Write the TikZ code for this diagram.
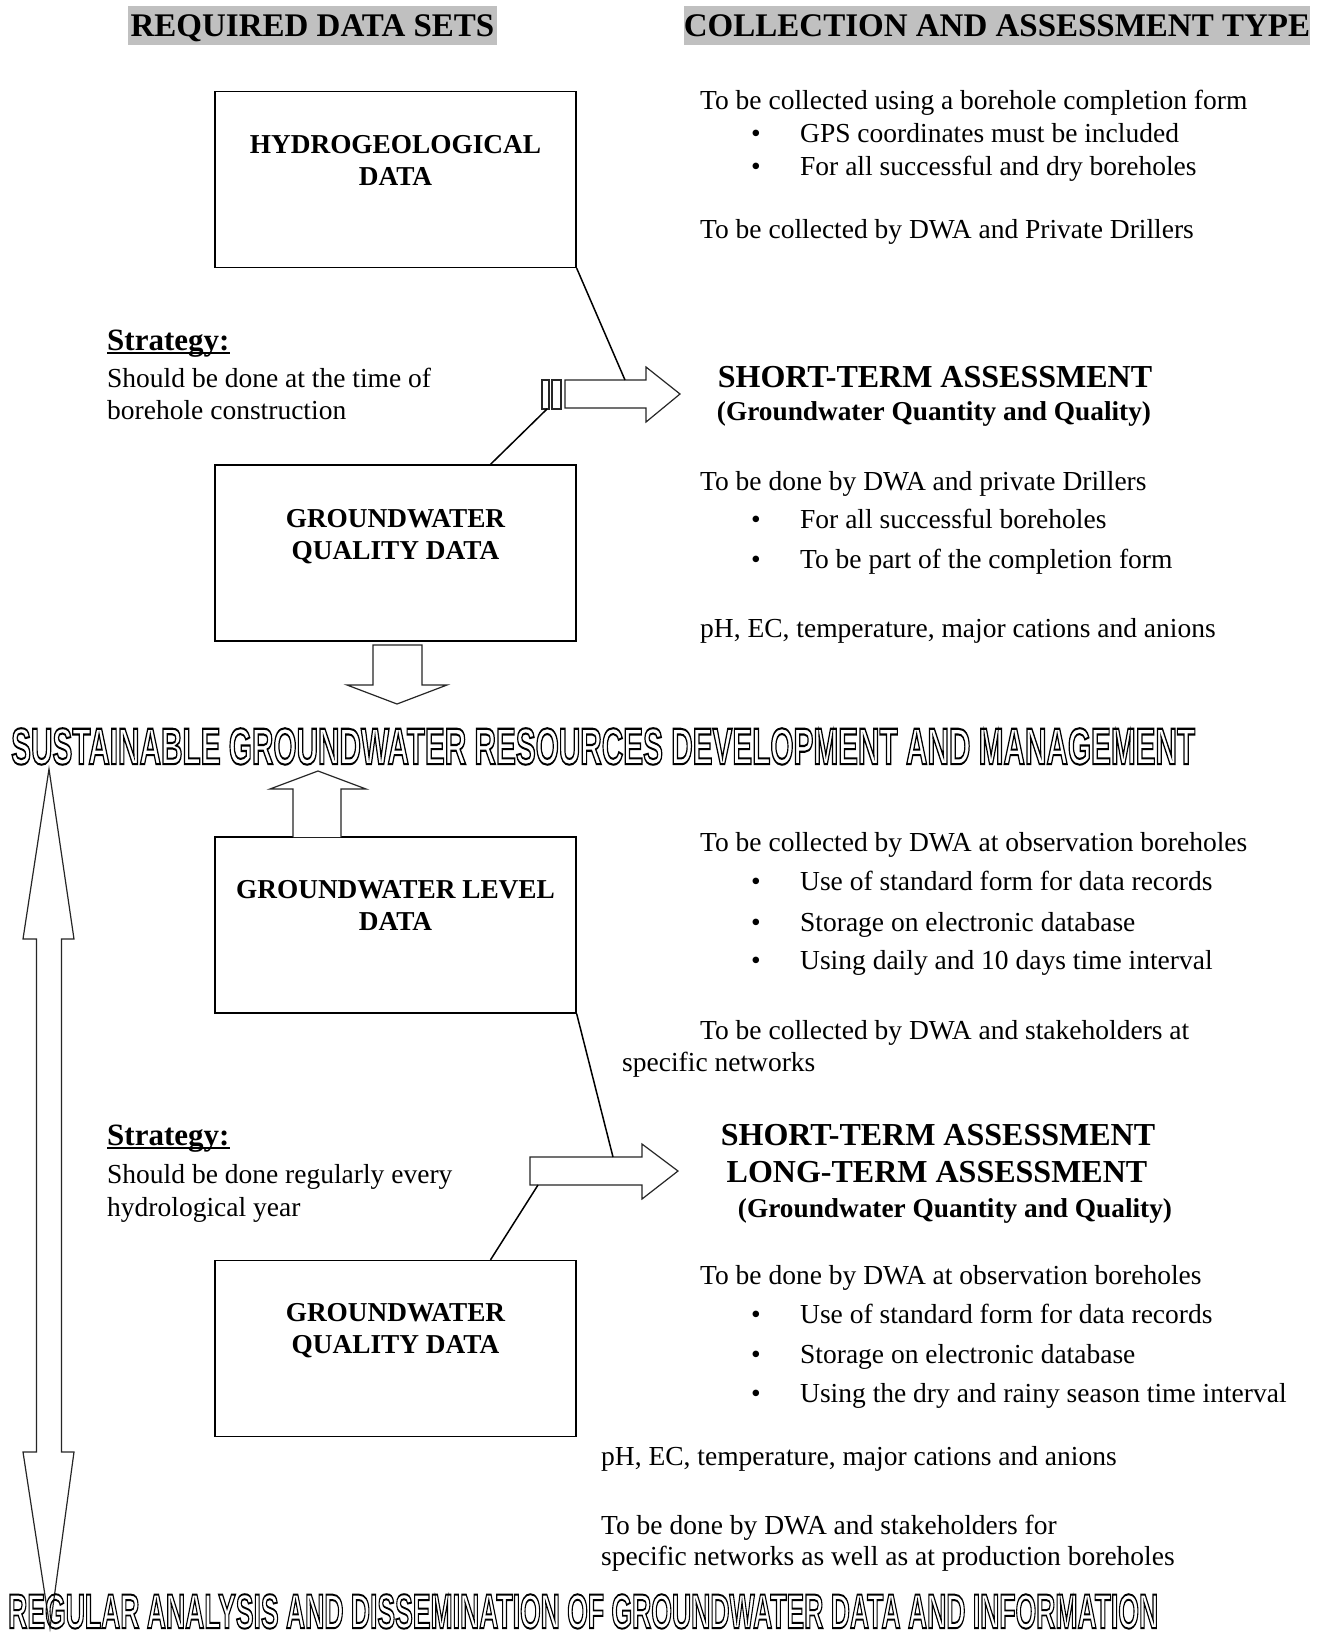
\documentclass[tikz,border=0pt]{standalone}
\usepackage{fontspec}
\setmainfont{Liberation Serif}
\newfontfamily\outfont{Liberation Sans}
\usepackage{graphicx}
\definecolor{hdrgray}{RGB}{192,192,192}
\newcommand{\OutlineTxt}[1]{\special{pdf:literal direct 1 Tr 2.0 w}#1\special{pdf:literal direct 0 Tr 1 w}}
\newcommand{\Bul}{\makebox[49pt][l]{\textbullet}}
\begin{document}
\begin{tikzpicture}[x=1pt,y=-1pt,
  body/.style={font=\fontsize{27.5}{33}\selectfont, anchor=mid west, inner sep=0pt},
  strat/.style={font=\bfseries\fontsize{31}{36}\selectfont, anchor=base west, inner sep=0pt},
  boxtxt/.style={font=\bfseries\fontsize{27.3}{32}\selectfont, align=center, inner sep=0pt},
  hdr/.style={fill=hdrgray, font=\bfseries\fontsize{33}{36}\selectfont, inner sep=0pt, minimum height=39pt, text height=22pt, text depth=0pt},
  databox/.style={draw, line width=1.3pt, minimum width=361pt, minimum height=176pt, inner sep=0pt},
  blockarrow/.style={draw=black!85, line width=1.2pt, fill=white, line join=miter},
  conn/.style={line width=1.5pt},
  bigtitle/.style={font=\bfseries\fontsize{32}{37}\selectfont, inner sep=0pt},
  subtitle/.style={font=\bfseries\fontsize{27.3}{32}\selectfont, inner sep=0pt},
  outl/.style={anchor=north west, inner sep=0pt, font=\outfont\bfseries\fontsize{50}{50}\selectfont}
]
\useasboundingbox (0,0) rectangle (1320,1639);
\fill[white] (0,0) rectangle (1320,1639);

% headers
\node[hdr, minimum width=369pt] (h1) at (312.5,25.5) {REQUIRED DATA SETS};
\node[hdr, minimum width=626pt] (h2) at (997,25.5) {COLLECTION AND ASSESSMENT TYPE};

% data boxes
\node[databox] (b1) at (395.5,179.5) {};
\node[boxtxt] (b1t) at (395.5,160) {HYDROGEOLOGICAL\\DATA};
\node[databox] (b2) at (395.5,553) {};
\node[boxtxt] (b2t) at (395.5,537) {GROUNDWATER\\QUALITY DATA};
\node[databox] (b3) at (395.5,925) {};
\node[boxtxt] (b3t) at (395.5,905) {GROUNDWATER LEVEL\\DATA};
\node[databox] (b4) at (395.5,1348.5) {};
\node[boxtxt] (b4t) at (395.5,1331) {GROUNDWATER\\QUALITY DATA};

% block arrow 1 (upper, to the right)
\draw[blockarrow] (565,380) -- (646,380) -- (646,367) -- (680,394) -- (646,422) -- (646,408) -- (565,408) -- cycle;
\draw[blockarrow] (542,380) rectangle (549,409);
\draw[blockarrow] (552,380) rectangle (561,409);
\coordinate (a1top) at (625,380);
\coordinate (a1bot) at (547,409);
\draw[conn] (b1.south east) -- (a1top);
\draw[conn] (b2.north) ++(95,0) coordinate (b2c) (b2c) -- (a1bot);

% block arrow 2 (lower, to the right)
\draw[blockarrow] (530,1157) -- (642,1157) -- (642,1144) -- (678,1171) -- (642,1199) -- (642,1185) -- (530,1185) -- cycle;
\coordinate (a2top) at (613,1157);
\coordinate (a2bot) at (538,1185);
\draw[conn] (b3.south east) -- (a2top);
\draw[conn] (b4.north) ++(95,0) coordinate (b4c) (b4c) -- (a2bot);

% down arrow from box 2
\draw[blockarrow] (373,645) -- (422,645) -- (422,685) -- (447,685) -- (397,704) -- (347,685) -- (373,685) -- cycle;
% up arrow to box 3
\draw[blockarrow] (293,837) -- (293,789) -- (270,789) -- (318,771) -- (366,789) -- (341,789) -- (341,837);

% left double arrow
\draw[blockarrow] (49,769) -- (74,939) -- (61.5,939) -- (61.5,1452) -- (74,1452) -- (50,1628) -- (23,1452) -- (36.5,1452) -- (36.5,939) -- (23,939) -- cycle;

% strategy texts
\node[strat] (s1) at (107,350) {Strategy:};
\draw[line width=2pt] ([yshift=-2.5pt]s1.base west) -- ([yshift=-2.5pt]s1.base east);
\node[body] (s1a) at (107,385) {Should be done at the time of};
\node[body] (s1b) at (107,417) {borehole construction};

\node[strat] (s2) at (107,1145) {Strategy:};
\draw[line width=2pt] ([yshift=-2.5pt]s2.base west) -- ([yshift=-2.5pt]s2.base east);
\node[body] (s2a) at (107,1181) {Should be done regularly every};
\node[body] (s2b) at (107,1214) {hydrological year};

% right column, upper
\node[body] (r1) at (700,107) {To be collected using a borehole completion form};
\node[body] (r1a) at (751,140) {\Bul GPS coordinates must be included};
\node[body] (r1b) at (751,173) {\Bul For all successful and dry boreholes};
\node[body] (r2) at (700,236) {To be collected by DWA and Private Drillers};

\node[bigtitle] (t1) at (935,377) {SHORT-TERM ASSESSMENT};
\node[subtitle] (t1s) at (934,414) {(Groundwater Quantity and Quality)};

\node[body] (r3) at (700,488) {To be done by DWA and private Drillers};
\node[body] (r3a) at (751,526) {\Bul For all successful boreholes};
\node[body] (r3b) at (751,566) {\Bul To be part of the completion form};
\node[body] (r4) at (700,635) {pH, EC, temperature, major cations and anions};

% right column, lower
\node[body] (r5) at (700,849) {To be collected by DWA at observation boreholes};
\node[body] (r5a) at (751,888) {\Bul Use of standard form for data records};
\node[body] (r5b) at (751,929) {\Bul Storage on electronic database};
\node[body] (r5c) at (751,967) {\Bul Using daily and 10 days time interval};
\node[body] (r6) at (700,1037) {To be collected by DWA and stakeholders at};
\node[body] (r6b) at (622,1069) {specific networks};

\node[bigtitle] (t2) at (938,1135) {SHORT-TERM ASSESSMENT};
\node[bigtitle] (t3) at (937,1172) {LONG-TERM ASSESSMENT};
\node[subtitle] (t3s) at (955,1211) {(Groundwater Quantity and Quality)};

\node[body] (r7) at (700,1282) {To be done by DWA at observation boreholes};
\node[body] (r7a) at (751,1321) {\Bul Use of standard form for data records};
\node[body] (r7b) at (751,1361) {\Bul Storage on electronic database};
\node[body] (r7c) at (751,1400) {\Bul Using the dry and rainy season time interval};
\node[body] (r8) at (601,1463) {pH, EC, temperature, major cations and anions};
\node[body] (r9) at (601,1532) {To be done by DWA and stakeholders for};
\node[body] (r9b) at (601,1563) {specific networks as well as at production boreholes};

% outlined titles
\node[outl] (sus) at (11,728) {\resizebox{1184pt}{36pt}{\OutlineTxt{SUSTAINABLE GROUNDWATER RESOURCES DEVELOPMENT AND MANAGEMENT}}};
\node[outl] (reg) at (8,1594) {\resizebox{1150pt}{34pt}{\OutlineTxt{REGULAR ANALYSIS AND DISSEMINATION OF GROUNDWATER DATA AND INFORMATION}}};
\end{tikzpicture}
\end{document}
